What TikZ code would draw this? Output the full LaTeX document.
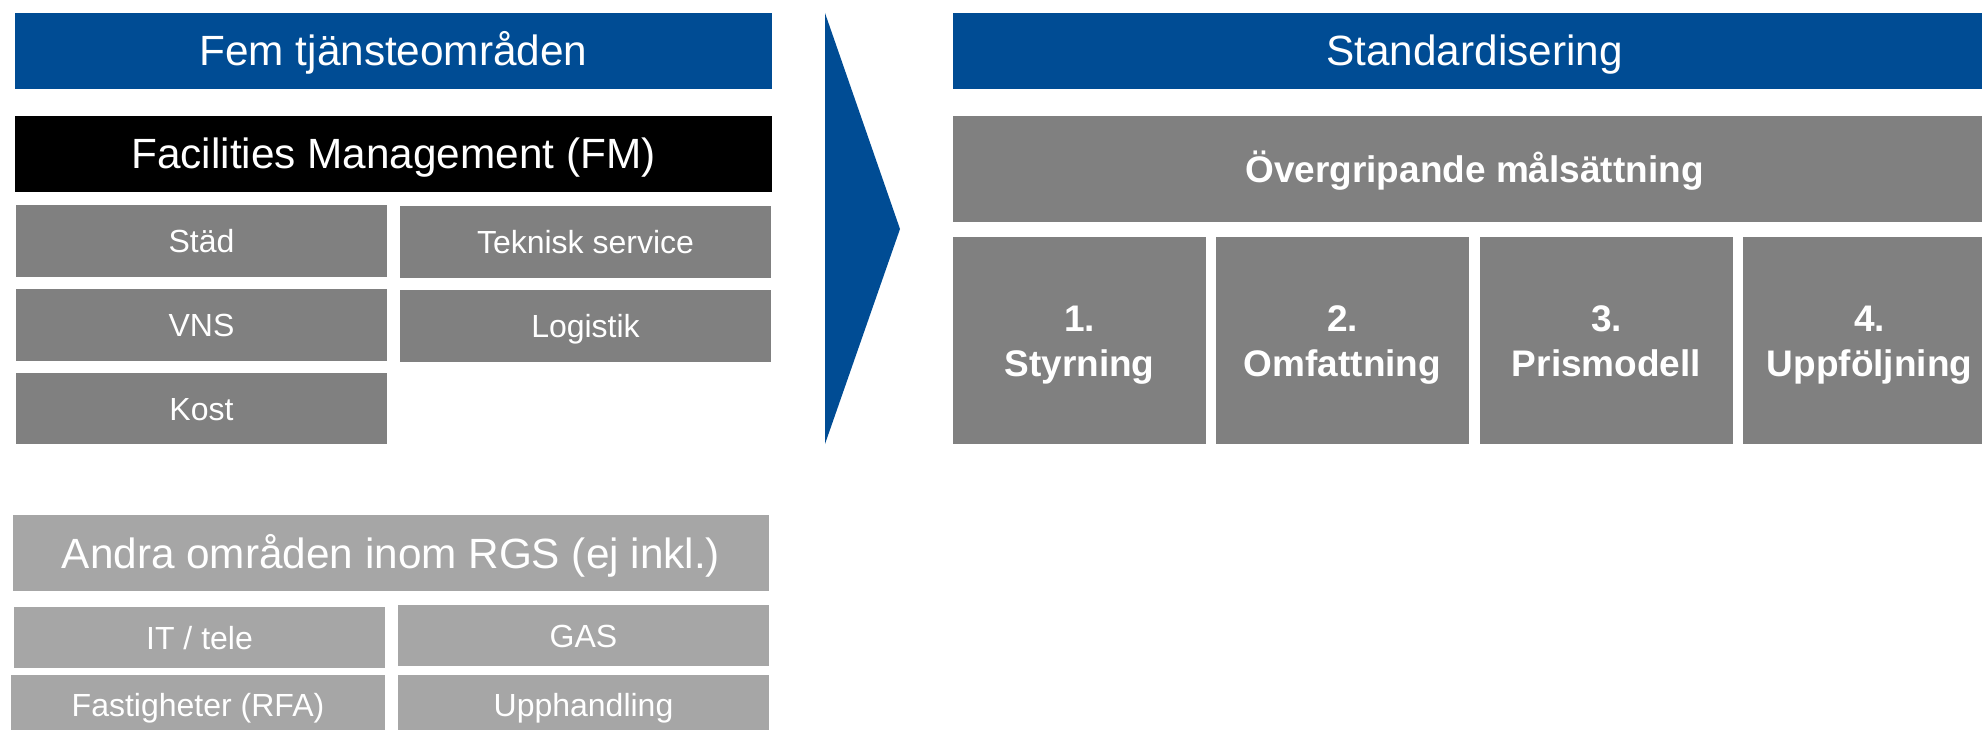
\documentclass[tikz,border=0pt]{standalone}
\usepackage{fontspec}
\setmainfont{Liberation Sans}
\definecolor{rgsblue}{RGB}{0,76,148}
\definecolor{fmgray}{RGB}{128,128,128}
\definecolor{lightgray}{RGB}{166,166,166}
\tikzset{
  blk/.style={anchor=north west, inner sep=0pt, outer sep=0pt, text=white},
  bigtxt/.style={font=\fontsize{42.3}{50}\selectfont, text height=30pt, text depth=0pt},
  smalltxt/.style={font=\fontsize{32}{38}\selectfont, text height=23pt, text depth=0pt},
  boldtxt/.style={font=\fontsize{37}{45}\selectfont\bfseries, text height=26.5pt, text depth=0pt},
  twoline/.style={font=\fontsize{37}{45}\selectfont\bfseries, text height=71.5pt, text depth=0pt},
}
\newcommand{\twol}[2]{\parbox[b]{253pt}{\centering #1\\#2}}
\begin{document}
\begin{tikzpicture}[x=1pt,y=-1pt]
\useasboundingbox (0,0) rectangle (1982,730);
\clip (0,0) rectangle (1982,730);
% left column
\node[blk,bigtxt,fill=rgsblue,minimum width=757pt,minimum height=76pt] (fem) at (15,13) {Fem tjänsteområden};
\node[blk,bigtxt,fill=black,minimum width=757pt,minimum height=76pt] (fm) at (15,116) {Facilities Management (FM)};
\node[blk,smalltxt,fill=fmgray,minimum width=371pt,minimum height=72pt] (stad) at (16,205) {Städ};
\node[blk,smalltxt,fill=fmgray,minimum width=371pt,minimum height=72pt] (tek) at (400,206) {Teknisk service};
\node[blk,smalltxt,fill=fmgray,minimum width=371pt,minimum height=72pt] (vns) at (16,289) {VNS};
\node[blk,smalltxt,fill=fmgray,minimum width=371pt,minimum height=72pt] (log) at (400,290) {Logistik};
\node[blk,smalltxt,fill=fmgray,minimum width=371pt,minimum height=71pt] (kost) at (16,373) {Kost};
\node[blk,bigtxt,fill=lightgray,minimum width=756pt,minimum height=76pt] (andra) at (13,515) {Andra områden inom RGS (ej inkl.)};
\node[blk,smalltxt,fill=lightgray,minimum width=371pt,minimum height=61pt] (it) at (14,607) {IT / tele};
\node[blk,smalltxt,fill=lightgray,minimum width=371pt,minimum height=61pt] (gas) at (398,605) {GAS};
\node[blk,smalltxt,fill=lightgray,minimum width=374pt,minimum height=60pt] (fast) at (11,675) {Fastigheter (RFA)};
\node[blk,smalltxt,fill=lightgray,minimum width=371pt,minimum height=60pt] (upph) at (398,675) {Upphandling};
% arrow
\fill[rgsblue] (825,13) -- (900,229) -- (825,444) -- cycle;
% right column
\node[blk,bigtxt,fill=rgsblue,minimum width=1043pt,minimum height=76pt] (std) at (953,13) {Standardisering};
\node[blk,boldtxt,fill=fmgray,minimum width=1043pt,minimum height=106pt] (overg) at (953,116) {Övergripande målsättning};
\node[blk,twoline,fill=fmgray,minimum width=253pt,minimum height=207pt] (b1) at (953,237) {\twol{1.}{Styrning}};
\node[blk,twoline,fill=fmgray,minimum width=253pt,minimum height=207pt] (b2) at (1216,237) {\twol{2.}{Omfattning}};
\node[blk,twoline,fill=fmgray,minimum width=253pt,minimum height=207pt] (b3) at (1480,237) {\twol{3.}{Prismodell}};
\node[blk,twoline,fill=fmgray,minimum width=253pt,minimum height=207pt] (b4) at (1743,237) {\twol{4.}{Uppföljning}};
\end{tikzpicture}
\end{document}
